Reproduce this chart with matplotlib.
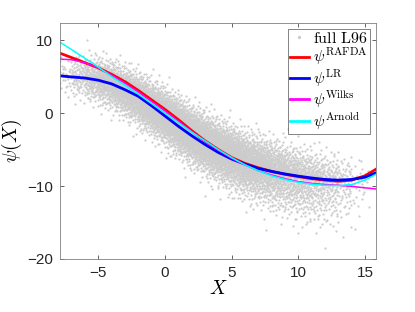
import numpy as np
import matplotlib
matplotlib.use("Agg")
import matplotlib.pyplot as plt

plt.rcParams["font.family"] = ["Liberation Sans", "DejaVu Sans"]
plt.rcParams["mathtext.fontset"] = "cm"

# curve values
x_curve = [-7.87, -7, -6, -5, -4, -3, -2, -1, 0, 1, 2, 3, 4, 5, 6, 7, 8,
           9, 10, 11, 12, 13, 14, 15, 15.83]
psi_rafda = [8.2, 7.6, 6.9, 6.2, 5.3, 4.3, 3.1, 1.8, 0.5, -0.9, -2.4, -3.8,
             -5.0, -6.1, -6.9, -7.5, -8.0, -8.4, -8.7, -9.0, -9.2, -9.35,
             -9.2, -8.6, -7.7]
psi_lr = [5.1, 4.95, 4.8, 4.5, 4.0, 3.2, 2.3, 1.0, -0.4, -1.8, -3.1, -4.3,
          -5.4, -6.3, -7.0, -7.6, -8.0, -8.35, -8.65, -8.9, -9.1, -9.2,
          -9.1, -8.8, -8.2]
psi_wilks = [7.4, 7.3, 6.9, 6.2, 5.2, 4.1, 2.9, 1.6, 0.3, -1.1, -2.5, -3.9,
             -5.1, -6.2, -7.1, -7.9, -8.5, -9.0, -9.4, -9.65, -9.8, -9.9,
             -10.05, -10.25, -10.4]
psi_arnold = [9.7, 8.7, 7.5, 6.3, 5.0, 3.8, 2.6, 1.3, 0.0, -1.3, -2.6, -3.8,
              -5.0, -6.1, -7.1, -7.9, -8.6, -9.1, -9.5, -9.75, -9.9, -9.95,
              -9.8, -9.2, -8.4]

# envelope of the grey cloud (centre and spread below / above)
x_band = [-8, -6, -4, -2, 0, 2, 4, 6, 8, 10, 12, 14, 16]
band_mid = [5.2, 5.0, 4.0, 2.0, -0.4, -2.9, -5.0, -6.6, -7.8, -8.8, -9.5,
            -9.6, -9.6]
band_low = [1.3, 1.5, 1.6, 1.7, 1.8, 1.9, 2.0, 2.2, 2.4, 2.6, 2.8, 2.6, 2.3]
band_high = [1.3, 1.4, 1.5, 1.6, 1.7, 1.7, 1.8, 1.8, 1.9, 1.9, 1.9, 1.7, 1.6]
x_dens = [-8, -7, -6, -5, -4, -3, -2, -1, 0, 1, 2, 3, 4, 5, 6, 7, 8, 9, 10,
          11, 12, 13, 14, 15, 15.5]
dens = [0.02, 0.1, 0.25, 0.4, 0.52, 0.62, 0.72, 0.82, 0.92, 1.0, 1.0, 1.0,
        0.95, 0.9, 0.8, 0.7, 0.6, 0.5, 0.42, 0.35, 0.28, 0.18, 0.08, 0.02, 0.0]
n_cloud = 7000


def halton(n, base):
    """deterministic low-discrepancy sequence in (0, 1)"""
    out = np.zeros(n)
    for i in range(n):
        f, r, k = 1.0, 0.0, i + 1
        while k > 0:
            f /= base
            r += f * (k % base)
            k //= base
        out[i] = r
    return out


def cloud_points():
    u = halton(n_cloud, 2)
    v = halton(n_cloud, 3)
    d = np.array(dens)
    cdf = np.concatenate([[0], np.cumsum(0.5 * (d[1:] + d[:-1]))])
    cdf /= cdf[-1]
    xs = np.interp(u, cdf, x_dens)
    mid = np.interp(xs, x_band, band_mid)
    lo = np.interp(xs, x_band, band_low)
    hi = np.interp(xs, x_band, band_high)
    # Tukey lambda approximation of the normal quantile
    q = (v ** 0.14 - (1 - v) ** 0.14) / 0.1975
    ys = mid + np.where(q < 0, lo, hi) * q
    return xs, ys


def main():
    fig = plt.figure(figsize=(4.15, 3.12), dpi=100)
    ax = fig.add_axes([0.1446, 0.170, 0.7614, 0.756])

    xs, ys = cloud_points()
    ax.plot(xs, ys, "o", ms=1.6, mew=0, color="0.8", label=r"$\mathrm{full\ L96}$")
    ax.plot(x_curve, psi_rafda, color="red", lw=2.0, label=r"$\psi^{\mathrm{RAFDA}}$")
    ax.plot(x_curve, psi_lr, color="blue", lw=2.0, label=r"$\psi^{\mathrm{LR}}$")
    ax.plot(x_curve, psi_wilks, color="magenta", lw=1.1, label=r"$\psi^{\mathrm{Wilks}}$")
    ax.plot(x_curve, psi_arnold, color="cyan", lw=1.1, label=r"$\psi^{\mathrm{Arnold}}$")

    ax.set_xlim(-7.87, 15.83)
    ax.set_ylim(-20, 12.33)
    ax.set_xticks([-5, 0, 5, 10, 15])
    ax.set_yticks([-20, -10, 0, 10])
    ax.tick_params(direction="in", top=True, right=True, length=3, width=0.5,
                   labelsize=11, colors="0.15", pad=5)
    for sp in ax.spines.values():
        sp.set_linewidth(0.6)
        sp.set_color("0.5")

    ax.set_xlabel(r"$X$", fontsize=14, labelpad=0)
    ax.set_ylabel(r"$\psi(X)$", fontsize=14, labelpad=2)

    leg = ax.legend(loc="upper right", fontsize=11.5, frameon=True, fancybox=False,
                    handlelength=1.15, handletextpad=0.3, borderpad=0.15,
                    labelspacing=0.0, borderaxespad=0.35, markerscale=1.5)
    leg.get_frame().set_edgecolor("0.15")
    leg.get_frame().set_linewidth(0.5)
    for ln in leg.get_lines()[1:]:
        ln.set_linewidth(2.0)

    fig.savefig("out.png", dpi=100)


if __name__ == "__main__":
    main()
